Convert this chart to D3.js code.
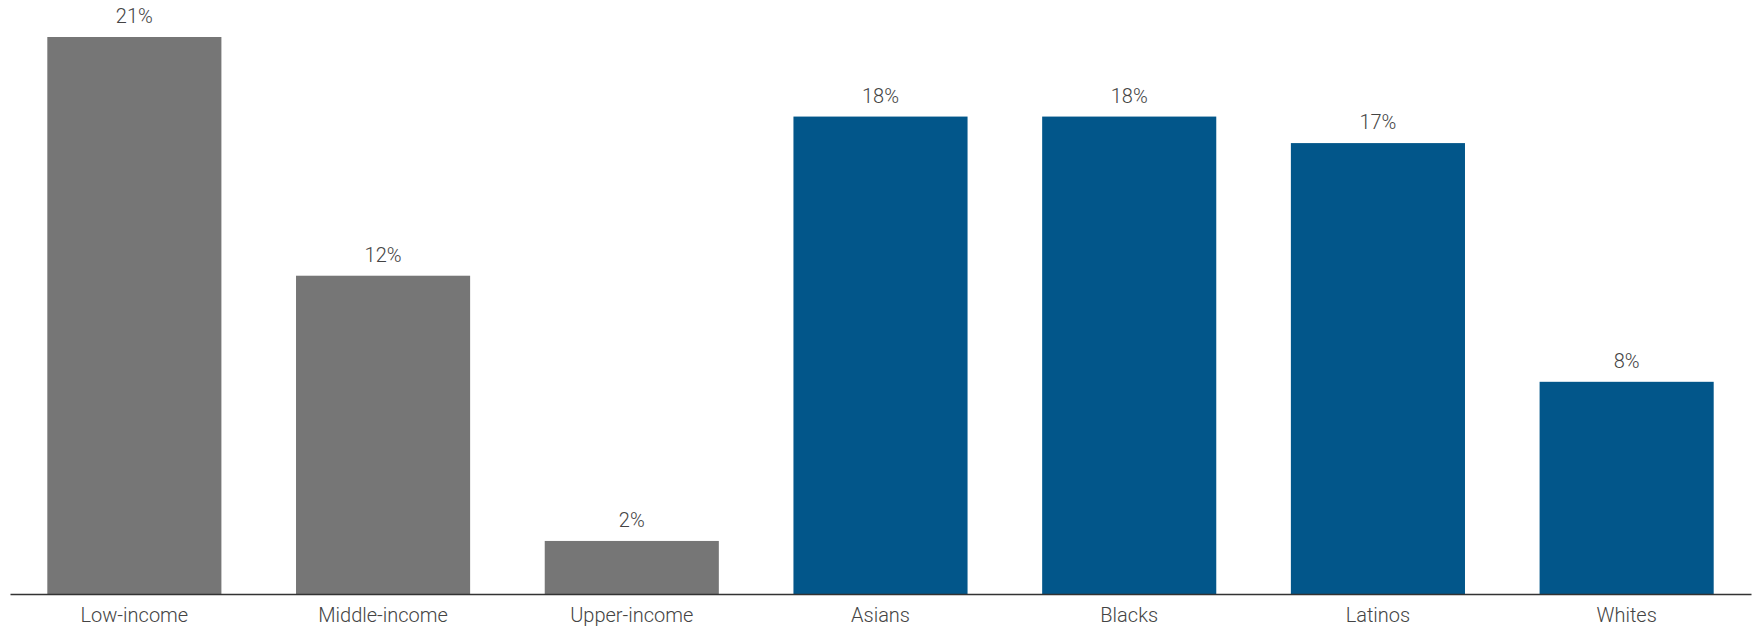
<!DOCTYPE html>
<html>
<head>
<meta charset="utf-8">
<script src="https://cdn.jsdelivr.net/npm/d3@7"></script>
<style>
  html, body { margin: 0; padding: 0; background: #fff; }
  svg { display: block; }
  text { font-family: Roboto, "Noto Sans", sans-serif; font-weight: 300; }
</style>
</head>
<body>
<svg id="chart" width="1756" height="627"></svg>
<script>
const categories = ["Low-income", "Middle-income", "Upper-income", "Asians", "Blacks", "Latinos", "Whites"];
const values = [21, 12, 2, 18, 18, 17, 8];
const groups = ["income", "income", "income", "race", "race", "race", "race"];
const colors = { income: "#767676", race: "#02568A" };

const svg = d3.select("#chart");
const x0 = 10, x1 = 1751, yBase = 594, yTop = 37;

const x = d3.scaleBand().domain(categories).range([x0, x1]).paddingInner(0.3).paddingOuter(0.15);
const y = d3.scaleLinear().domain([0, 21]).range([yBase, yTop]);

const data = categories.map((c, i) => ({ c, v: values[i], g: groups[i] }));

svg.append("g").selectAll("rect").data(data).join("rect")
  .attr("x", d => x(d.c))
  .attr("width", x.bandwidth())
  .attr("y", d => y(d.v))
  .attr("height", d => y(0) - y(d.v))
  .attr("fill", d => colors[d.g]);

svg.append("g").selectAll("text").data(data).join("text")
  .attr("x", d => x(d.c) + x.bandwidth() / 2)
  .attr("y", d => y(d.v) - 14)
  .attr("text-anchor", "middle")
  .attr("font-size", 20)
  .attr("font-weight", 300)
  .attr("fill", "#444")
  .text(d => d.v + "%");

const axis = d3.axisBottom(x).tickSize(0).tickPadding(14);
const ag = svg.append("g").attr("transform", `translate(0,${yBase})`).call(axis);
ag.select(".domain").attr("stroke", "#333").attr("stroke-width", 1.6);
ag.selectAll(".tick text").attr("font-size", 20).attr("fill", "#444")
  .attr("font-weight", 300)
  .attr("font-family", "Roboto, 'Noto Sans', sans-serif").attr("dy", "0.71em");
</script>
</body>
</html>
